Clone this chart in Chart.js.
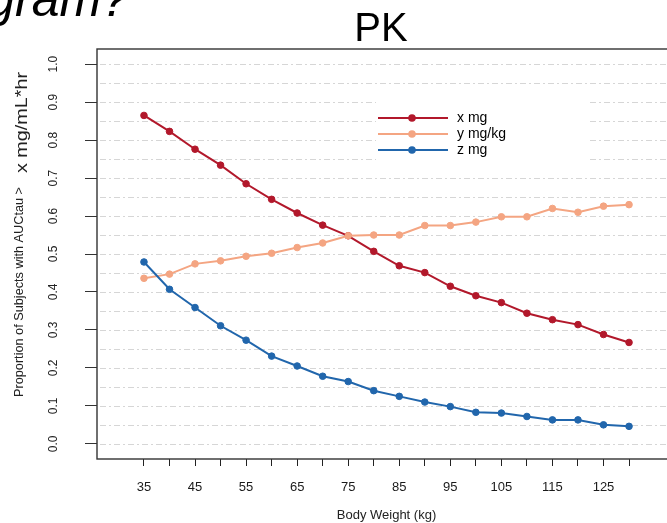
<!DOCTYPE html>
<html>
<head>
<meta charset="utf-8">
<script src="https://cdn.jsdelivr.net/npm/chart.js@4.4.1/dist/chart.umd.min.js"></script>
<style>
  html, body { margin: 0; padding: 0; background: #fff; overflow: hidden; width: 667px; height: 523px; }
  #wrap { position: absolute; left: 0; top: 0; width: 700px; height: 523px; }
</style>
</head>
<body>
<div id="wrap"><canvas id="c" width="700" height="523"></canvas></div>
<script>
// ---- data ----
const weights = [35, 40, 45, 50, 55, 60, 65, 70, 75, 80, 85, 90, 95, 100, 105, 110, 115, 120, 125, 130];
const xMg   = [0.865, 0.823, 0.776, 0.734, 0.685, 0.644, 0.608, 0.576, 0.548, 0.507, 0.469, 0.451, 0.415, 0.390, 0.372, 0.344, 0.327, 0.314, 0.288, 0.267];
const yMgKg = [0.436, 0.447, 0.474, 0.482, 0.494, 0.502, 0.517, 0.529, 0.548, 0.550, 0.550, 0.575, 0.575, 0.584, 0.598, 0.598, 0.620, 0.610, 0.626, 0.630];
const zMg   = [0.479, 0.407, 0.359, 0.311, 0.273, 0.231, 0.205, 0.178, 0.164, 0.140, 0.125, 0.110, 0.098, 0.083, 0.081, 0.072, 0.063, 0.063, 0.050, 0.046];
const seriesNames = ['x mg', 'y mg/kg', 'z mg'];
const xTickValues = [35, 40, 45, 50, 55, 60, 65, 70, 75, 80, 85, 90, 95, 100, 105, 110, 115, 120, 125, 130];
const xTickLabels = ['35', '', '45', '', '55', '', '65', '', '75', '', '85', '', '95', '', '105', '', '115', '', '125', ''];
const yTickValues = [0, 0.1, 0.2, 0.3, 0.4, 0.5, 0.6, 0.7, 0.8, 0.9, 1.0];
const yTickLabels = ['0.0', '0.1', '0.2', '0.3', '0.4', '0.5', '0.6', '0.7', '0.8', '0.9', '1.0'];
const yGridValues = [0, 0.05, 0.1, 0.15, 0.2, 0.25, 0.3, 0.35, 0.4, 0.45, 0.5, 0.55, 0.6, 0.65, 0.7, 0.75, 0.8, 0.85, 0.9, 0.95, 1.0];
const colors = ['#b2182b', '#f4a582', '#2166ac'];

const FONT = '"Liberation Sans", Arial, sans-serif';

function mk(vals) { return weights.map((w, i) => ({ x: w, y: vals[i] })); }

const decor = {
  id: 'decor',
  beforeDatasetsDraw(chart) {
    const ctx = chart.ctx, a = chart.chartArea, ys = chart.scales.y;
    ctx.save();
    ctx.strokeStyle = '#d6d6d6';
    ctx.lineWidth = 1;
    ctx.setLineDash([6, 3, 2, 3]);
    yGridValues.forEach(v => {
      const py = Math.round(ys.getPixelForValue(v)) + 0.5;
      ctx.beginPath();
      ctx.moveTo(a.left + 3, py);
      ctx.lineTo(a.right, py);
      ctx.stroke();
    });
    ctx.restore();
  },
  afterDraw(chart) {
    const ctx = chart.ctx, a = chart.chartArea, ys = chart.scales.y;
    ctx.save();
    // box
    ctx.strokeStyle = '#333';
    ctx.lineWidth = 1.4;
    ctx.strokeRect(a.left, a.top, a.right - a.left, a.bottom - a.top);

    // rotated y tick labels
    ctx.fillStyle = '#222';
    ctx.font = '13px ' + FONT;
    ctx.textAlign = 'center';
    ctx.textBaseline = 'middle';
    yTickValues.forEach((v, i) => {
      const py = ys.getPixelForValue(v);
      ctx.save();
      ctx.translate(53, py);
      ctx.rotate(-Math.PI / 2);
      ctx.scale(0.92, 1);
      ctx.fillText(yTickLabels[i], 0, 0);
      ctx.restore();
    });

    // y axis title (two parts)
    function rotText(txt, font, xc, yStart, len) {
      ctx.save();
      ctx.font = font;
      ctx.textAlign = 'left';
      ctx.textBaseline = 'middle';
      const w = ctx.measureText(txt).width;
      ctx.translate(xc, yStart);
      ctx.rotate(-Math.PI / 2);
      ctx.scale(len / w, 1);
      ctx.fillText(txt, 0, 0);
      ctx.restore();
    }
    ctx.fillStyle = '#222';
    rotText('Proportion of Subjects with AUCtau >', '12.5px ' + FONT, 20, 397, 210);
    rotText('x mg/mL*hr', '16.5px ' + FONT, 22, 173, 101);

    // title "PK"
    ctx.fillStyle = '#000';
    ctx.font = '40px ' + FONT;
    ctx.textAlign = 'center';
    ctx.textBaseline = 'alphabetic';
    ctx.fillText('PK', 381, 41);

    // slide fragment top-left
    ctx.font = 'italic 50px ' + FONT;
    ctx.textAlign = 'right';
    ctx.fillText('gram?', 129, 16);

    // legend
    ctx.fillStyle = '#fff';
    ctx.fillRect(376, 93, 211, 78);
    const rows = [118, 134, 150];
    chart.data.datasets.forEach((ds, i) => {
      const y = rows[i];
      ctx.strokeStyle = ds.borderColor;
      ctx.lineWidth = 2;
      ctx.beginPath();
      ctx.moveTo(378, y);
      ctx.lineTo(448, y);
      ctx.stroke();
      ctx.fillStyle = ds.borderColor;
      ctx.beginPath();
      ctx.arc(412, y, 3.8, 0, Math.PI * 2);
      ctx.fill();
      ctx.fillStyle = '#000';
      ctx.font = '14px ' + FONT;
      ctx.textAlign = 'left';
      ctx.textBaseline = 'middle';
      ctx.fillText(ds.label, 457, y + 0.5);
    });
    ctx.restore();
  }
};

new Chart(document.getElementById('c'), {
  type: 'line',
  data: {
    datasets: [
      { label: seriesNames[0], data: mk(xMg), borderColor: colors[0], backgroundColor: colors[0], order: 3 },
      { label: seriesNames[1], data: mk(yMgKg), borderColor: colors[1], backgroundColor: colors[1], order: 2 },
      { label: seriesNames[2], data: mk(zMg), borderColor: colors[2], backgroundColor: colors[2], order: 1 }
    ]
  },
  options: {
    responsive: false,
    animation: false,
    devicePixelRatio: 1,
    layout: { padding: { left: 0, top: 49, right: 24, bottom: 0 } },
    elements: {
      line: { borderWidth: 2, tension: 0 },
      point: { radius: 3.3, borderWidth: 1, hoverRadius: 3.3 }
    },
    plugins: { legend: { display: false }, tooltip: { enabled: false }, title: { display: false } },
    scales: {
      x: {
        type: 'linear',
        min: 25.8,
        max: 139.2,
        afterBuildTicks(s) { s.ticks = xTickValues.map(v => ({ value: v })); },
        afterFit(s) { s.height = 64; },
        ticks: {
          autoSkip: false,
          maxRotation: 0,
          padding: 14,
          color: '#1a1a1a',
          font: { family: FONT, size: 13 },
          callback: (v) => { const i = xTickValues.indexOf(v); return i >= 0 ? xTickLabels[i] : ''; }
        },
        grid: { drawOnChartArea: false, drawTicks: true, tickLength: 7, tickColor: '#222', tickWidth: 1 },
        border: { display: false },
        title: {
          display: true,
          text: 'Body Weight (kg)',
          color: '#222',
          font: { family: FONT, size: 13 },
          padding: { top: 0, bottom: 0 }
        }
      },
      y: {
        type: 'linear',
        min: -0.04,
        max: 1.04,
        afterBuildTicks(s) { s.ticks = yTickValues.map(v => ({ value: v })); },
        afterFit(s) { s.width = 97; },
        ticks: { display: false },
        grid: { drawOnChartArea: false, drawTicks: true, tickLength: 12, tickColor: '#333', tickWidth: 1 },
        border: { display: false }
      }
    }
  },
  plugins: [decor]
});
</script>
</body>
</html>
